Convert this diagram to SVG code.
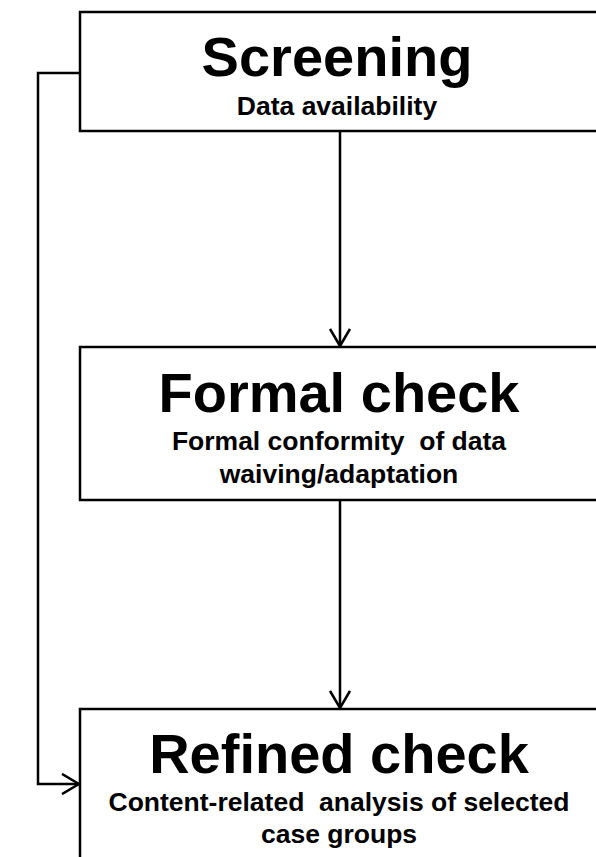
<svg xmlns="http://www.w3.org/2000/svg" width="596" height="857" viewBox="0 0 596 857">
  <defs>
    <style>
      .box { fill: #ffffff; stroke: #000000; stroke-width: 2.5; }
      .title { font-family: "Liberation Sans", Arial, sans-serif; font-weight: bold; font-size: 56px; text-anchor: middle; fill: #000000; }
      .sub { font-family: "Liberation Sans", Arial, sans-serif; font-weight: bold; font-size: 26.5px; text-anchor: middle; fill: #000000; white-space: pre; }
      .conn { fill: none; stroke: #000000; stroke-width: 2.5; }
    </style>
    <marker id="arrow" markerUnits="userSpaceOnUse" markerWidth="20" markerHeight="22" viewBox="0 0 20 22" refX="18" refY="11" orient="auto">
      <path d="M1,1 L18,11 L1,21" fill="none" stroke="#000000" stroke-width="2.6"/>
    </marker>
  </defs>
  <rect x="0" y="0" width="596" height="857" fill="#ffffff"/>
  <g id="connectors">
    <line class="conn" x1="340" y1="131" x2="340" y2="346" marker-end="url(#arrow)"/>
    <line class="conn" x1="340" y1="500" x2="340" y2="708" marker-end="url(#arrow)"/>
    <polyline class="conn" points="80,73 38,73 38,784 79,784" marker-end="url(#arrow)"/>
  </g>
  <g id="screening">
    <rect class="box" x="80" y="12" width="530" height="119"/>
    <text class="title" x="337" y="76" font-size="53">Screening</text>
    <text class="sub" x="337" y="115">Data availability</text>
  </g>
  <g id="formal-check">
    <rect class="box" x="80" y="347" width="530" height="153"/>
    <text class="title" x="339" y="412">Formal check</text>
    <text class="sub" x="339" y="450">Formal conformity  of data</text>
    <text class="sub" x="339" y="483">waiving/adaptation</text>
  </g>
  <g id="refined-check">
    <rect class="box" x="80" y="709" width="530" height="170"/>
    <text class="title" x="339" y="773">Refined check</text>
    <text class="sub" x="339" y="811">Content-related  analysis of selected</text>
    <text class="sub" x="339" y="843">case groups</text>
  </g>
</svg>
